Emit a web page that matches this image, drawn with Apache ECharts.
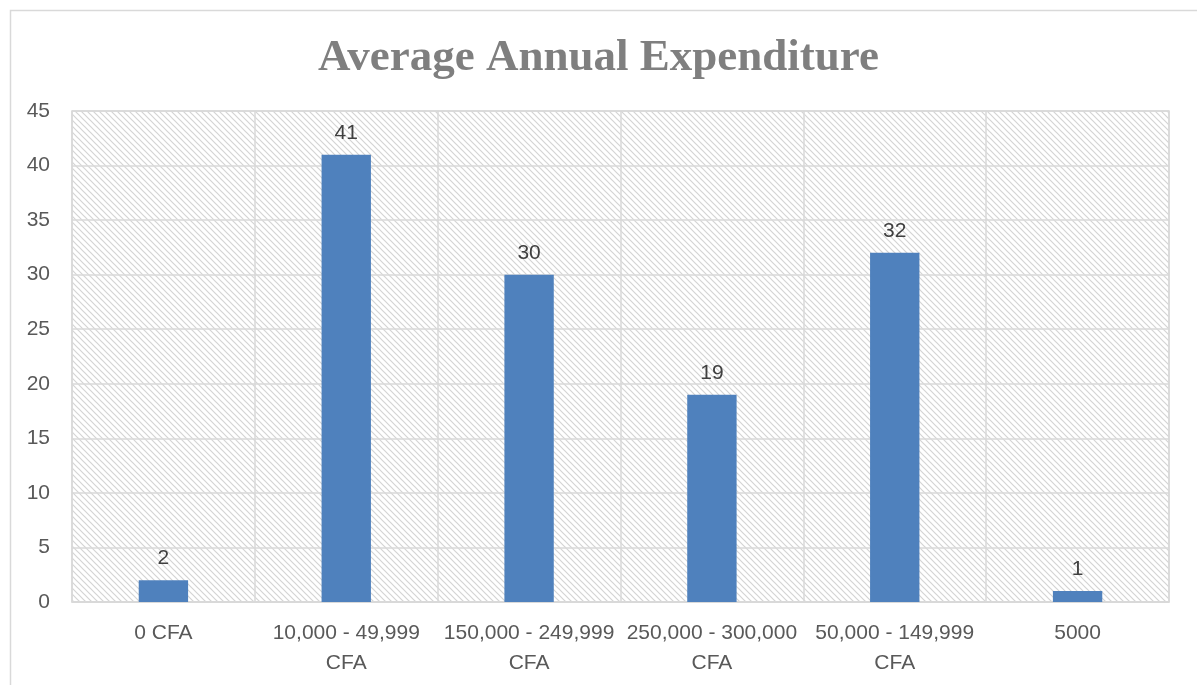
<!DOCTYPE html>
<html>
<head>
<meta charset="utf-8">
<script src="https://cdn.jsdelivr.net/npm/echarts@6/dist/echarts.min.js"></script>
<style>
  html, body { margin: 0; padding: 0; background: #ffffff; }
  #chart { width: 1197px; height: 685px; }
</style>
</head>
<body>
<div id="chart"></div>
<script>
// Expenditure brackets and respondent counts
const categories = ['0 CFA', '10,000 - 49,999\nCFA', '150,000 - 249,999\nCFA', '250,000 - 300,000\nCFA', '50,000 - 149,999\nCFA', '5000'];
const counts = [2, 41, 30, 19, 32, 1];
const yTicks = { min: 0, max: 45, interval: 5 };

// Light diagonal hatch for the plot background
function hatchPattern() {
  const c = document.createElement('canvas');
  c.width = 6; c.height = 6;
  const g = c.getContext('2d');
  g.fillStyle = '#ffffff';
  g.fillRect(0, 0, 6, 6);
  g.strokeStyle = '#d4d4d4';
  g.lineWidth = 1.2;
  g.beginPath();
  g.moveTo(-1, -1); g.lineTo(7, 7);
  g.moveTo(-1, 5); g.lineTo(1, 7);
  g.moveTo(5, -1); g.lineTo(7, 1);
  g.stroke();
  return { image: c, repeat: 'repeat' };
}

const labelFont = { color: '#595959', fontFamily: 'Liberation Sans', fontSize: 21 };

const chart = echarts.init(document.getElementById('chart'), null, { renderer: 'canvas' });
chart.setOption({
  animation: false,
  backgroundColor: '#ffffff',
  title: {
    text: 'Average Annual Expenditure',
    left: 'center',
    top: 31,
    textStyle: { fontFamily: 'Liberation Serif', fontWeight: 'bold', fontSize: 45, color: '#7f7f7f' }
  },
  graphic: [{
    type: 'rect', left: 8, top: 8, shape: { width: 1200, height: 700 },
    style: { fill: 'none', stroke: '#d9d9d9', lineWidth: 1.5 }, silent: true
  }],
  grid: {
    left: 72, right: 28, top: 111, bottom: 83,
    show: true, backgroundColor: hatchPattern(), borderColor: '#d9d9d9', borderWidth: 1.5
  },
  xAxis: {
    type: 'category',
    data: categories,
    axisLine: { lineStyle: { color: '#d9d9d9', width: 1.5 } },
    axisTick: { show: false },
    splitLine: { show: true, lineStyle: { color: '#d9d9d9', width: 1.5 } },
    axisLabel: Object.assign({}, labelFont, { margin: 16, lineHeight: 30, interval: 0 })
  },
  yAxis: {
    type: 'value',
    min: yTicks.min, max: yTicks.max, interval: yTicks.interval,
    axisLine: { show: false },
    axisTick: { show: false },
    splitLine: { lineStyle: { color: '#d9d9d9', width: 1.5 } },
    axisLabel: Object.assign({}, labelFont, { margin: 22, align: 'right' })
  },
  series: [{
    type: 'bar',
    data: counts,
    barWidth: '27%',
    itemStyle: { color: '#4f81bd' },
    label: Object.assign({ show: true, position: 'top', distance: 11 }, labelFont, { color: '#404040' })
  }]
});
</script>
</body>
</html>
